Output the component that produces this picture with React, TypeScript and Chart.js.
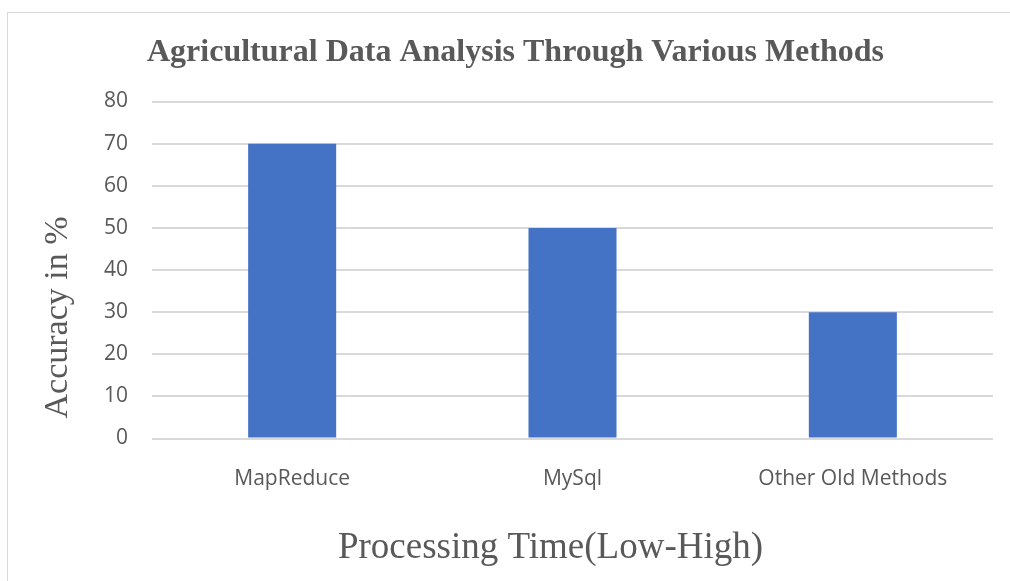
import React, { useEffect, useRef } from "react";
import { Chart, registerables } from "chart.js";

Chart.register(...registerables);

const categories = ["MapReduce", "MySql", "Other Old Methods"];
const accuracy = [70, 50, 30];
const yMin = 0;
const yMax = 80;
const yStep = 10;
const chartTitle = "Agricultural Data Analysis Through Various Methods";
const yAxisTitle = "Accuracy in %";
const xAxisTitle = "Processing Time(Low-High)";

const TEXT = "#595959";
const GRID = "#d9d9d9";
const BAR = "#4472c4";
const TICK_FONT = "Open Sans";
const SERIF = "Liberation Serif";

const CW = 1014;
const CH = 590;

const axisTitlePlugin = {
  id: "axisTitles",
  afterDraw(chart: any) {
    const ctx = chart.ctx;
    ctx.save();
    ctx.fillStyle = TEXT;
    ctx.font = `37px "${SERIF}"`;
    ctx.textAlign = "center";
    ctx.textBaseline = "alphabetic";
    ctx.fillText(xAxisTitle, 542.5, 545.3);
    ctx.translate(50, 304.5);
    ctx.rotate(-Math.PI / 2);
    ctx.font = `34px "${SERIF}"`;
    ctx.textBaseline = "middle";
    ctx.fillText(yAxisTitle, 0, 0);
    ctx.restore();
  },
};

export default function App() {
  const ref = useRef<HTMLCanvasElement | null>(null);

  useEffect(() => {
    if (!ref.current) return;
    const chart = new Chart(ref.current, {
      type: "bar",
      data: {
        labels: categories,
        datasets: [
          {
            data: accuracy,
            backgroundColor: BAR,
            borderWidth: 0,
            barPercentage: 0.314,
            categoryPercentage: 1,
          },
        ],
      },
      options: {
        animation: false,
        responsive: false,
        devicePixelRatio: 1,
        layout: { padding: { left: 30, right: 29, top: 8, bottom: 0 } },
        plugins: {
          legend: { display: false },
          tooltip: { enabled: false },
          title: {
            display: true,
            text: chartTitle,
            color: TEXT,
            font: { family: SERIF, size: 32, weight: "bold", lineHeight: 1.2 },
            padding: { top: 12.3, bottom: 29.8 },
          },
        },
        scales: {
          x: {
            grid: { display: false, drawTicks: false },
            border: { display: false },
            ticks: {
              color: TEXT,
              padding: 28,
              font: { family: TICK_FONT, size: 21 },
              maxRotation: 0,
              autoSkip: false,
            },
            afterFit(scale: any) {
              scale.height = 164.5;
            },
          },
          y: {
            min: yMin,
            max: yMax,
            grid: { color: GRID, lineWidth: 2, drawTicks: false },
            border: { display: false },
            ticks: {
              stepSize: yStep,
              color: TEXT,
              padding: 24,
              font: { family: TICK_FONT, size: 21 },
            },
            afterFit(scale: any) {
              scale.width = 114;
            },
          },
        },
      },
      plugins: [axisTitlePlugin],
    } as any);
    return () => chart.destroy();
  }, []);

  return (
    <div
      style={{
        position: "fixed",
        left: 0,
        top: 0,
        width: 1010,
        height: 581,
        overflow: "hidden",
        background: "#fff",
      }}
    >
      <div
        style={{
          position: "absolute",
          left: 7,
          top: 12,
          width: CW,
          height: CH,
          border: "1px solid #d9d9d9",
        }}
      >
        <canvas ref={ref} width={CW} height={CH} style={{ display: "block", width: CW, height: CH }} />
      </div>
    </div>
  );
}
